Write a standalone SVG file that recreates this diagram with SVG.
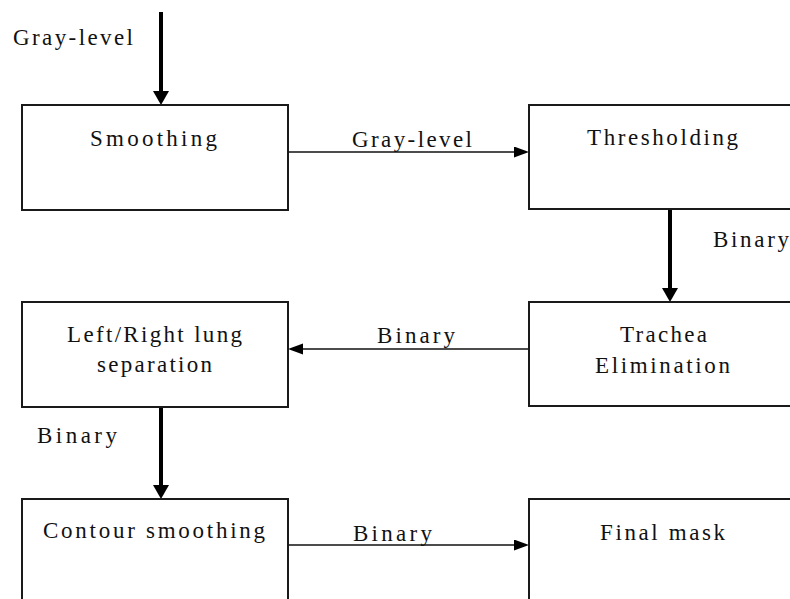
<svg xmlns="http://www.w3.org/2000/svg" width="790" height="599" viewBox="0 0 790 599">
<style>
.box{fill:#fff;stroke:#1a1a1a;stroke-width:2}
.t{font-family:"Liberation Serif","Times New Roman",Times,"Noto Serif","DejaVu Serif",Tinos,FreeSerif,serif;font-size:23px;fill:#111}
.thick{stroke:#000;stroke-width:4;fill:none}
.thin{stroke:#111;stroke-width:1.5;fill:none}
</style>
<defs>
<marker id="ah" markerUnits="userSpaceOnUse" markerWidth="16" markerHeight="18" refX="4" refY="8" orient="auto">
<path d="M0,0 L14,8 L0,16 z" fill="#000"/>
</marker>
<marker id="as" markerUnits="userSpaceOnUse" markerWidth="16" markerHeight="12" refX="10" refY="5.5" orient="auto">
<path d="M0,0 L15,5.5 L0,11 z" fill="#000"/>
</marker>
</defs>
<rect width="790" height="599" fill="#fff"/>
<g id="connectors">
<line class="thick" x1="161" y1="12" x2="161" y2="95" marker-end="url(#ah)"/>
<line class="thin" x1="288" y1="152" x2="524" y2="152" marker-end="url(#as)"/>
<line class="thick" x1="670" y1="209" x2="670" y2="292" marker-end="url(#ah)"/>
<line class="thin" x1="529" y1="349" x2="293" y2="349" marker-end="url(#as)"/>
<line class="thick" x1="161" y1="407" x2="161" y2="489" marker-end="url(#ah)"/>
<line class="thin" x1="288" y1="545" x2="524" y2="545" marker-end="url(#as)"/>
<text class="t" x="13" y="45" textLength="120" lengthAdjust="spacing">Gray-level</text>
<text class="t" x="352" y="147" textLength="120" lengthAdjust="spacing">Gray-level</text>
<text class="t" x="713" y="247" textLength="76" lengthAdjust="spacing">Binary</text>
<text class="t" x="377" y="343" textLength="78" lengthAdjust="spacing">Binary</text>
<text class="t" x="37" y="443" textLength="80" lengthAdjust="spacing">Binary</text>
<text class="t" x="353" y="541" textLength="79" lengthAdjust="spacing">Binary</text>
</g>
<g id="smoothing">
<rect class="box" x="22" y="105" width="266" height="105"/>
<text class="t" x="90" y="146" textLength="127" lengthAdjust="spacing">Smoothing</text>
</g>
<g id="thresholding">
<rect class="box" x="529" y="105" width="280" height="104"/>
<text class="t" x="587" y="145" textLength="151" lengthAdjust="spacing">Thresholding</text>
</g>
<g id="trachea">
<rect class="box" x="529" y="302" width="280" height="104"/>
<text class="t" x="620" y="342" textLength="87" lengthAdjust="spacing">Trachea</text>
<text class="t" x="595" y="373" textLength="135" lengthAdjust="spacing">Elimination</text>
</g>
<g id="lung-separation">
<rect class="box" x="22" y="302" width="266" height="105"/>
<text class="t" x="67" y="342" textLength="175" lengthAdjust="spacing">Left/Right lung</text>
<text class="t" x="97" y="372" textLength="115" lengthAdjust="spacing">separation</text>
</g>
<g id="contour-smoothing">
<rect class="box" x="22" y="499" width="266" height="120"/>
<text class="t" x="43" y="538" textLength="222" lengthAdjust="spacing">Contour smoothing</text>
</g>
<g id="final-mask">
<rect class="box" x="529" y="499" width="280" height="120"/>
<text class="t" x="600" y="540" textLength="125" lengthAdjust="spacing">Final mask</text>
</g>
</svg>
